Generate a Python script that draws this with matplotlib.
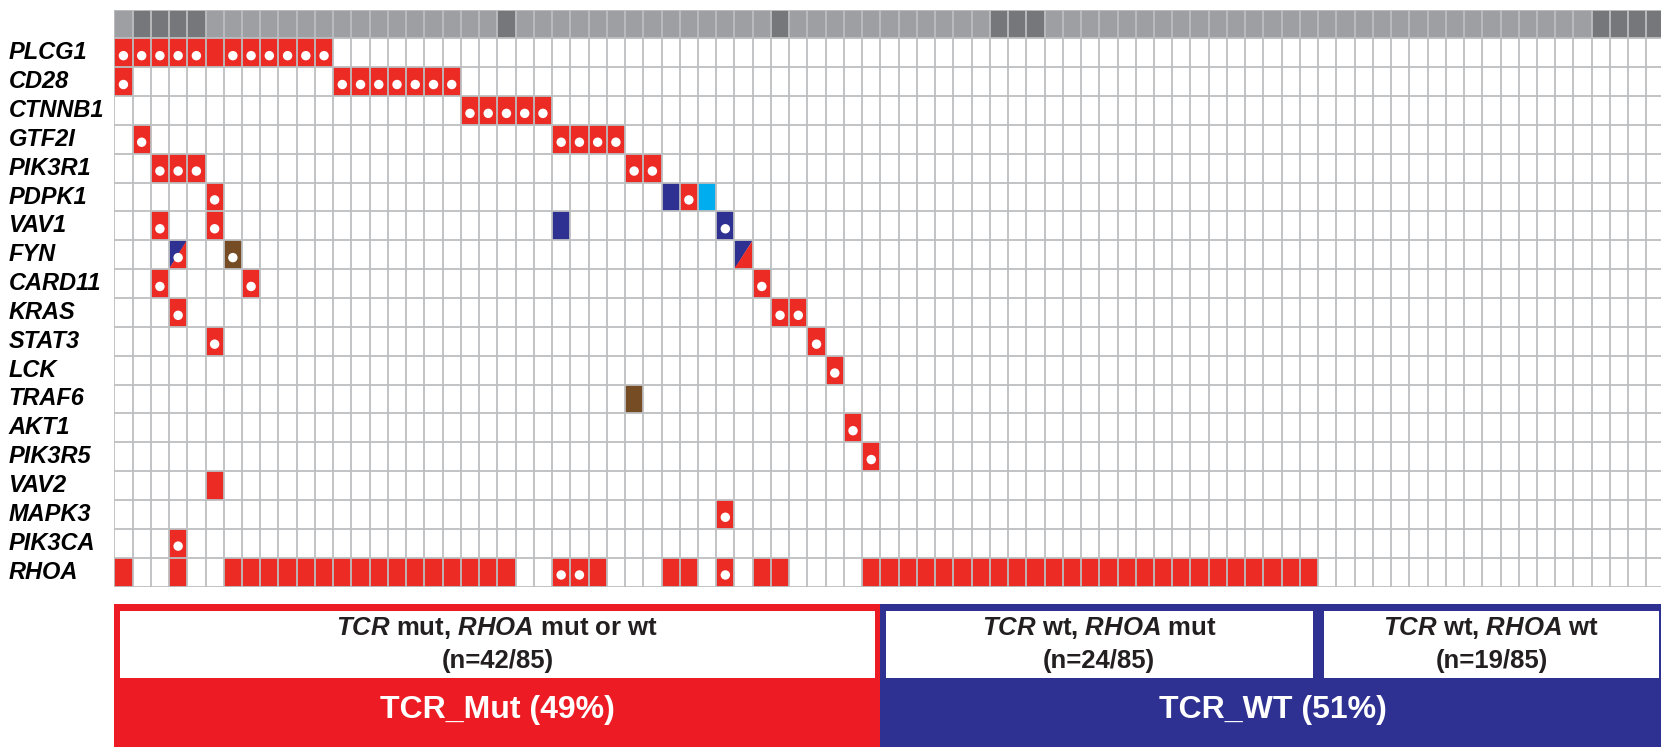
import matplotlib.pyplot as plt
from matplotlib.patches import Rectangle, Polygon

plt.rcParams['font.family'] = 'Liberation Sans'
plt.rcParams['mathtext.fontset'] = 'custom'
plt.rcParams['mathtext.it'] = 'Liberation Sans:italic:bold'
plt.rcParams['mathtext.rm'] = 'Liberation Sans:bold'

n_samples = 85

genes = ["PLCG1", "CD28", "CTNNB1", "GTF2I", "PIK3R1", "PDPK1", "VAV1", "FYN",
         "CARD11", "KRAS", "STAT3", "LCK", "TRAF6", "AKT1", "PIK3R5", "VAV2",
         "MAPK3", "PIK3CA", "RHOA"]

# samples shaded dark in the annotation strip on top
dark_samples = [1, 2, 3, 4, 21, 36, 48, 49, 50, 81, 82, 83, 84]

# altered samples per gene, one dict per alteration colour
red_hits = {
    "PLCG1": [0, 1, 2, 3, 4, 5, 6, 7, 8, 9, 10, 11],
    "CD28": [0, 12, 13, 14, 15, 16, 17, 18],
    "CTNNB1": [19, 20, 21, 22, 23],
    "GTF2I": [1, 24, 25, 26, 27],
    "PIK3R1": [2, 3, 4, 28, 29],
    "PDPK1": [5, 31],
    "VAV1": [2, 5],
    "CARD11": [2, 7, 35],
    "KRAS": [3, 36, 37],
    "STAT3": [5, 38],
    "LCK": [39],
    "AKT1": [40],
    "PIK3R5": [41],
    "VAV2": [5],
    "MAPK3": [33],
    "PIK3CA": [3],
    "RHOA": [0, 3, 6, 7, 8, 9, 10, 11, 12, 13, 14, 15, 16, 17, 18, 19, 20, 21,
             24, 25, 26, 30, 31, 33, 35, 36,
             41, 42, 43, 44, 45, 46, 47, 48, 49, 50, 51, 52, 53, 54, 55, 56,
             57, 58, 59, 60, 61, 62, 63, 64, 65],
}
navy_hits = {"PDPK1": [30], "VAV1": [24, 33]}
cyan_hits = {"PDPK1": [32]}
brown_hits = {"FYN": [6], "TRAF6": [28]}
split_hits = {"FYN": [3, 34]}

# cells carrying the white dot
dot_hits = {
    "PLCG1": [0, 1, 2, 3, 4, 6, 7, 8, 9, 10, 11],
    "CD28": [0, 12, 13, 14, 15, 16, 17, 18],
    "CTNNB1": [19, 20, 21, 22, 23],
    "GTF2I": [1, 24, 25, 26, 27],
    "PIK3R1": [2, 3, 4, 28, 29],
    "PDPK1": [5, 31],
    "VAV1": [2, 5, 33],
    "FYN": [3, 6],
    "CARD11": [2, 7, 35],
    "KRAS": [3, 36, 37],
    "STAT3": [5, 38],
    "LCK": [39],
    "AKT1": [40],
    "PIK3R5": [41],
    "MAPK3": [33],
    "PIK3CA": [3],
    "RHOA": [24, 25, 33],
}

group_labels = [r"$\mathit{TCR}$ mut, $\mathit{RHOA}$ mut or wt",
                r"$\mathit{TCR}$ wt, $\mathit{RHOA}$ mut",
                r"$\mathit{TCR}$ wt, $\mathit{RHOA}$ wt"]
group_sizes = [42, 24, 19]
class_labels = ["TCR_Mut", "TCR_WT"]
class_groups = [[0], [1, 2]]

RED = "#ED2B25"
NAVY = "#2E3192"
CYAN = "#00AEEF"
BROWN = "#754C24"
GRAY_LIGHT = "#9D9FA2"
GRAY_DARK = "#76777B"
GRID = "#BCBEC0"
BAND_COLORS = ["#ED1C24", "#2E3192"]

W, H = 1661, 747
left, col_w = 114.3, 18.24
top, row_h = 9.5, 28.85
n_rows = len(genes) + 1

fig = plt.figure(figsize=(W / 100, H / 100), dpi=100)
ax = fig.add_axes([left / W, 1 - (top + n_rows * row_h) / H,
                   n_samples * col_w / W, n_rows * row_h / H])
ax.set_xlim(0, n_samples)
ax.set_ylim(n_rows, 0)
ax.axis("off")

# annotation strip
for s in range(n_samples):
    c = GRAY_DARK if s in dark_samples else GRAY_LIGHT
    ax.add_patch(Rectangle((s, 0), 1, 1, facecolor=c, edgecolor="none"))

for hits, color in [(red_hits, RED), (navy_hits, NAVY),
                    (cyan_hits, CYAN), (brown_hits, BROWN)]:
    for gene, cols in hits.items():
        r = genes.index(gene) + 1
        for s in cols:
            ax.add_patch(Rectangle((s, r), 1, 1, facecolor=color, edgecolor="none"))

for gene, cols in split_hits.items():
    r = genes.index(gene) + 1
    for s in cols:
        ax.add_patch(Polygon([(s, r), (s + 1, r), (s, r + 1)],
                             facecolor=NAVY, edgecolor="none"))
        ax.add_patch(Polygon([(s + 1, r), (s + 1, r + 1), (s, r + 1)],
                             facecolor=RED, edgecolor="none"))

dx, dy = [], []
for gene, cols in dot_hits.items():
    r = genes.index(gene) + 1
    for s in cols:
        dx.append(s + 0.5)
        dy.append(r + 0.6)
ax.scatter(dx, dy, s=46, color="white", edgecolors="none", zorder=4)

ax.vlines(range(n_samples + 1), 0, n_rows, color=GRID, lw=1.3, zorder=3)
ax.hlines(range(n_rows + 1), 0, n_samples, color=GRID, lw=1.3, zorder=3)

for i, gene in enumerate(genes):
    ax.text(-5.8, i + 1.5, gene, ha="left", va="center", fontsize=17,
            fontweight="bold", fontstyle="italic", clip_on=False)

# subgroup bands underneath
band_top = 604
bx = fig.add_axes([left / W, 0, n_samples * col_w / W, (H - band_top) / H])
bx.set_xlim(0, n_samples)
bx.set_ylim(H - band_top, 0)
bx.axis("off")

starts = [sum(group_sizes[:i]) for i in range(len(group_sizes))]
inset = 0.3
for k, (label, members) in enumerate(zip(class_labels, class_groups)):
    x0 = starts[members[0]]
    n = sum(group_sizes[g] for g in members)
    bx.add_patch(Rectangle((x0, 0), n, 200, facecolor=BAND_COLORS[k],
                           edgecolor="none"))
    pct = round(100 * n / n_samples)
    bx.text(x0 + n / 2, 106, f"{label} ({pct}%)", ha="center", va="center",
            color="white", fontsize=23, fontweight="bold")
    for g in members:
        gx = starts[g]
        gn = group_sizes[g]
        bx.add_patch(Rectangle((gx + inset, 7), gn - 2 * inset, 67,
                               facecolor="white", edgecolor="none"))
        bx.text(gx + gn / 2, 24, group_labels[g], ha="center", va="center",
                fontsize=18.5, fontweight="bold", color="#231F20")
        bx.text(gx + gn / 2, 57, f"(n={gn}/{n_samples})", ha="center",
                va="center", fontsize=18.5, fontweight="bold", color="#231F20")

fig.savefig("out.png", dpi=100)
